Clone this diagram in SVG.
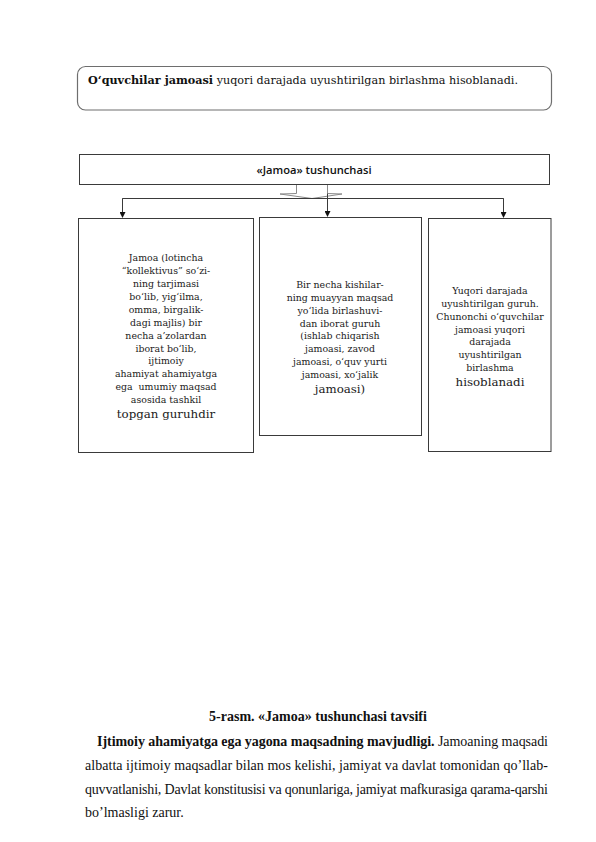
<svg xmlns="http://www.w3.org/2000/svg" width="596" height="842" viewBox="0 0 596 842">
<style>
.box{fill:#fff;stroke:#3a3a3a;stroke-width:1}
.bt{font-family:"DejaVu Serif",serif;font-size:9.4px;fill:#1a1a1a;text-anchor:middle}
.bl{font-family:"DejaVu Serif",serif;font-size:11.8px;fill:#1a1a1a;text-anchor:middle}
.con{fill:none;stroke:#3a3a3a;stroke-width:1}
.p{font-family:"Liberation Serif",serif;font-size:14px;fill:#111}
</style>
<defs>
<marker id="ah" markerWidth="6" markerHeight="6" refX="5" refY="3" orient="auto" markerUnits="userSpaceOnUse">
<path d="M0,0 L6,3 L0,6 Z" fill="#111"/>
</marker>
</defs>
<rect width="596" height="842" fill="#fff"/>
<g id="top-note">
<rect x="77.5" y="66.5" width="474" height="43.5" rx="8" fill="#fff" stroke="#6e6e6e" stroke-width="1.2"/>
<text x="88" y="84" font-family="DejaVu Serif, serif" font-size="11.5" fill="#111" textLength="430" lengthAdjust="spacingAndGlyphs"><tspan font-weight="bold">O‘quvchilar jamoasi</tspan> yuqori darajada uyushtirilgan birlashma hisoblanadi.</text>
</g>
<g id="title-box">
<rect class="box" x="79.5" y="154.5" width="470" height="30"/>
<text x="314" y="174" font-family="Open Sans, sans-serif" font-weight="600" font-size="11" fill="#111" text-anchor="middle" textLength="115" lengthAdjust="spacingAndGlyphs">«Jamoa» tushunchasi</text>
</g>
<g id="connectors">
<path d="M296.5,185 V193.5 L280,194 L312,198.5 L342,194 L327.5,193.5 V185" fill="#fff" stroke="#8a8a8a" stroke-width="1"/>
<path class="con" d="M122.5,217 V198.5 H503.5 V217"/>
<path class="con" d="M122.5,198.5 V217" marker-end="url(#ah)"/>
<path class="con" d="M503.5,198.5 V217" marker-end="url(#ah)"/>
<path class="con" d="M327.5,193.5 V216" marker-end="url(#ah)"/>
</g>
<g id="box-left">
<rect class="box" x="78.5" y="218.5" width="175" height="234"/>
<text class="bt" x="166" y="261">Jamoa (lotincha</text>
<text class="bt" x="166" y="274">“kollektivus” so‘zi-</text>
<text class="bt" x="166" y="287">ning tarjimasi</text>
<text class="bt" x="166" y="300">bo‘lib, yig‘ilma,</text>
<text class="bt" x="166" y="312.5">omma, birgalik-</text>
<text class="bt" x="166" y="325.5">dagi majlis) bir</text>
<text class="bt" x="166" y="338.5">necha a’zolardan</text>
<text class="bt" x="166" y="351.5">iborat bo‘lib,</text>
<text class="bt" x="166" y="364">ijtimoiy</text>
<text class="bt" x="166" y="377">ahamiyat ahamiyatga</text>
<text class="bt" x="166" y="390" xml:space="preserve">ega  umumiy maqsad</text>
<text class="bt" x="166" y="403">asosida tashkil</text>
<text class="bl" x="166" y="418">topgan guruhdir</text>
</g>
<g id="box-middle">
<rect class="box" x="259.5" y="217.5" width="162" height="218"/>
<text class="bt" x="340" y="287.5">Bir necha kishilar-</text>
<text class="bt" x="340" y="300.5">ning muayyan maqsad</text>
<text class="bt" x="340" y="313.5">yo‘lida birlashuvi-</text>
<text class="bt" x="340" y="326.5">dan iborat guruh</text>
<text class="bt" x="340" y="339">(ishlab chiqarish</text>
<text class="bt" x="340" y="352">jamoasi, zavod</text>
<text class="bt" x="340" y="365">jamoasi, o‘quv yurti</text>
<text class="bt" x="340" y="378">jamoasi, xo‘jalik</text>
<text class="bl" x="340" y="393">jamoasi)</text>
</g>
<g id="box-right">
<rect class="box" x="428.5" y="218.5" width="122.5" height="233"/>
<text class="bt" x="490" y="293.5">Yuqori darajada</text>
<text class="bt" x="490" y="306.5">uyushtirilgan guruh.</text>
<text class="bt" x="490" y="319.5">Chunonchi o‘quvchilar</text>
<text class="bt" x="490" y="332.5">jamoasi yuqori</text>
<text class="bt" x="490" y="345">darajada</text>
<text class="bt" x="490" y="358">uyushtirilgan</text>
<text class="bt" x="490" y="371">birlashma</text>
<text class="bl" x="490" y="386">hisoblanadi</text>
</g>
<g id="caption">
<text class="p" x="318" y="721" font-weight="bold" text-anchor="middle">5-rasm. «Jamoa» tushunchasi tavsifi</text>
</g>
<g id="paragraph">
<text class="p" x="97" y="746" textLength="451" lengthAdjust="spacing"><tspan font-weight="bold">Ijtimoiy ahamiyatga ega yagona maqsadning mavjudligi.</tspan> Jamoaning maqsadi</text>
<text class="p" x="85" y="770" textLength="463" lengthAdjust="spacing">albatta ijtimoiy maqsadlar bilan mos kelishi, jamiyat va davlat tomonidan qo’llab-</text>
<text class="p" x="85" y="794" textLength="463" lengthAdjust="spacing">quvvatlanishi, Davlat konstitusisi va qonunlariga, jamiyat mafkurasiga qarama-qarshi</text>
<text class="p" x="85" y="817">bo’lmasligi zarur.</text>
</g>
</svg>
